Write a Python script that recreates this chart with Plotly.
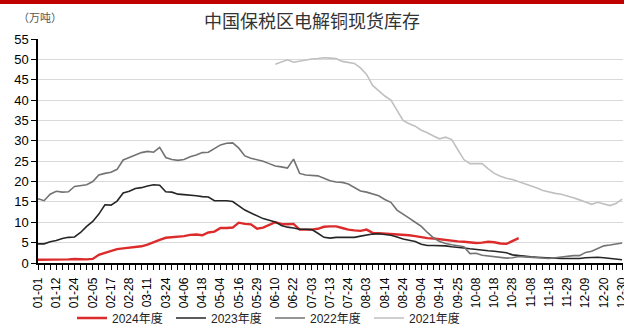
import plotly.graph_objects as go

# Trading dates (MM-DD), two observations per week
dates = [
    "01-01", "01-04", "01-08", "01-12", "01-15", "01-19", "01-24", "01-28", "02-01",
    "02-05", "02-09", "02-13", "02-17", "02-20", "02-24", "02-28", "03-03", "03-07",
    "03-11", "03-15", "03-19", "03-24", "03-28", "04-01", "04-06", "04-10", "04-14",
    "04-18", "04-22", "04-28", "05-04", "05-08", "05-12", "05-16", "05-20", "05-24",
    "05-29", "06-02", "06-06", "06-10", "06-14", "06-18", "06-22", "06-25", "06-29",
    "07-03", "07-06", "07-10", "07-13", "07-17", "07-20", "07-24", "07-27", "07-31",
    "08-03", "08-07", "08-10", "08-14", "08-17", "08-21", "08-24", "08-28", "08-31",
    "09-04", "09-07", "09-11", "09-14", "09-18", "09-21", "09-25", "09-28", "10-04",
    "10-08", "10-11", "10-15", "10-18", "10-22", "10-25", "10-28", "11-01", "11-04",
    "11-08", "11-11", "11-15", "11-18", "11-22", "11-25", "11-29", "12-02", "12-06",
    "12-09", "12-13", "12-16", "12-20", "12-23", "12-27", "12-30",
]

# Bonded-zone cathode copper spot inventory, 10k tonnes
inv_2024 = [
    0.8, 0.8, 0.9, 0.9, 0.9, 0.9, 1.0, 0.9, 0.9, 1.0,
    2.0, 2.5, 3.0, 3.4, 3.6, 3.8, 3.9, 4.1, 4.5, 5.2,
    5.7, 6.2, 6.3, 6.5, 6.6, 6.9, 7.0, 6.8, 7.5, 7.7,
    8.6, 8.6, 8.7, 9.9, 9.6, 9.5, 8.4, 8.7, 9.3, 10.0,
    9.6, 9.5, 9.6, 8.2, 8.2, 8.2, 8.4, 8.9, 9.0, 9.0,
    8.6, 8.2, 8.0, 7.9, 8.2, 7.4, 7.3, 7.2, 7.2, 7.1,
    6.9, 6.8, 6.6, 6.3, 6.1, 6.0, 5.8, 5.6, 5.5, 5.3,
    5.2, 5.0, 4.9, 5.0, 5.2, 5.1, 4.8, 4.7, 5.5, 6.1,
]

inv_2023 = [
    4.7, 4.7, 5.2, 5.5, 6.0, 6.3, 6.4, 7.5, 9.0, 10.2,
    12.0, 14.3, 14.2, 15.2, 17.2, 17.6, 18.3, 18.5, 18.9, 19.2,
    19.1, 17.5, 17.4, 16.9, 16.8, 16.7, 16.5, 16.3, 16.2, 15.3,
    15.3, 15.3, 15.1, 14.0, 13.0, 12.3, 11.5, 10.9, 10.5, 10.1,
    9.2, 8.8, 8.6, 8.3, 8.3, 8.2, 7.3, 6.3, 6.1, 6.3,
    6.3, 6.3, 6.3, 6.6, 6.9, 7.1, 7.2, 7.0, 6.8, 6.4,
    5.9, 5.6, 5.3, 4.6, 4.3, 4.3, 4.3, 4.2, 4.0, 3.9,
    3.7, 3.5, 3.3, 3.1, 3.0, 2.9, 2.7, 2.5, 2.0, 1.8,
    1.6, 1.5, 1.4, 1.3, 1.2, 1.1, 1.1, 1.1, 1.1, 1.1,
    1.3, 1.4, 1.4, 1.3, 1.1, 0.9, 0.8,
]

inv_2022 = [
    15.8, 15.3, 16.9, 17.6, 17.4, 17.5, 18.8, 19.0, 19.2, 20.0,
    21.6, 22.0, 22.3, 23.0, 25.3, 25.9, 26.5, 27.1, 27.4, 27.2,
    28.4, 25.9, 25.4, 25.2, 25.4, 26.1, 26.5, 27.1, 27.2, 28.0,
    29.0, 29.4, 29.5, 28.2, 26.3, 25.7, 25.3, 25.0, 24.4, 23.8,
    23.6, 23.3, 25.5, 22.0, 21.6, 21.5, 21.4, 20.8, 20.2, 19.9,
    19.8, 19.4, 18.5, 17.7, 17.4, 17.0, 16.5, 15.6, 14.9, 13.0,
    12.1, 11.0, 10.0, 9.0, 7.5, 6.2, 5.3, 4.8, 4.5, 4.3,
    4.0, 2.3, 2.4, 1.9, 1.7, 1.5, 1.3, 1.2, 1.3, 1.6,
    1.5, 1.4, 1.3, 1.2, 1.1, 1.3, 1.5, 1.6, 1.8, 1.8,
    2.6, 2.9, 3.6, 4.2, 4.4, 4.6, 4.9,
]

inv_2021 = [None] * 39 + [
    48.8, 49.3, 49.9, 49.3, 49.6, 49.9, 50.1, 50.2, 50.4, 50.3,
    50.2, 49.5, 49.2, 49.0, 47.9, 46.3, 43.6, 42.3, 41.0, 40.0,
    37.6, 35.0, 34.2, 33.6, 32.6, 32.0, 31.2, 30.5, 30.9, 30.3,
    27.8, 25.4, 24.4, 24.4, 24.4, 23.1, 22.0, 21.3, 20.8, 20.5,
    20.0, 19.5, 18.9, 18.4, 17.8, 17.4, 17.1, 16.9, 16.5, 16.0,
    15.5, 14.9, 14.4, 14.9, 14.5, 14.1, 14.6, 15.7,
]

series = [
    ("2024年度", inv_2024, "#DC2B2B", 2.4),
    ("2023年度", inv_2023, "#262626", 1.6),
    ("2022年度", inv_2022, "#737373", 1.6),
    ("2021年度", inv_2021, "#C0C0C0", 1.6),
]

x = list(range(len(dates)))
label_step = 3

fig = go.Figure()
for name, vals, color, width in series:
    fig.add_trace(go.Scatter(
        x=x[:len(vals)], y=vals, name=name, mode="lines",
        line=dict(color=color, width=width), connectgaps=False,
    ))

latin = "Liberation Sans, Arial, sans-serif"
cjk = "Noto Sans CJK SC, sans-serif"

fig.update_layout(
    width=624, height=326,
    margin=dict(l=38, r=1, t=39, b=63, autoexpand=False),
    paper_bgcolor="white", plot_bgcolor="white",
    showlegend=True,
    legend=dict(
        orientation="h", xref="container", yref="container",
        x=72 / 624, xanchor="left", y=1 - 318 / 326, yanchor="middle",
        font=dict(family="Liberation Sans, Noto Sans CJK SC", size=12, color="#222"),
        entrywidth=54, entrywidthmode="pixels", itemwidth=30,
        tracegroupgap=0, bgcolor="rgba(0,0,0,0)",
    ),
    title=dict(
        text="中国保税区电解铜现货库存", x=0.5, xanchor="center", xref="container",
        y=1 - 22 / 326, yanchor="middle",
        font=dict(family=cjk, size=18, color="#333333"),
    ),
)

fig.update_xaxes(
    range=[0, len(dates) - 0.85], automargin=False,
    tickmode="array", tickvals=x[::label_step], ticktext=dates[::label_step],
    tickangle=-90, ticks="outside", ticklen=5, tickwidth=1, tickcolor="black",
    ticklabelstandoff=3, ticklabeloverflow="allow",
    minor=dict(ticks="outside", dtick=1, tick0=0, ticklen=5, tickwidth=1, tickcolor="black"),
    showline=True, linecolor="black", linewidth=1.5,
    showgrid=False, zeroline=False,
    tickfont=dict(family=latin, size=12, color="black"),
)

fig.update_yaxes(
    range=[0, 55], dtick=5, tick0=0, automargin=False,
    ticks="outside", ticklen=5, tickcolor="black",
    showline=True, linecolor="black", linewidth=1.5,
    showgrid=True, gridcolor="#D9D9D9", gridwidth=1.2,
    zeroline=False,
    tickfont=dict(family=latin, size=13, color="black"),
)

# Unit label above the value axis
fig.add_annotation(
    text="（万吨）", xref="paper", yref="paper",
    x=-38 / 585 + 16 / 585, y=1 + 22 / 224, xanchor="left", yanchor="middle",
    showarrow=False, font=dict(family=cjk, size=11, color="#555555"),
)

# Red rule across the top of the page
fig.add_shape(
    type="rect", xref="paper", yref="paper",
    x0=-0.1, x1=1.1, y0=1 + 35 / 224, y1=1 + 40 / 224,
    fillcolor="#C00000", line=dict(width=0), layer="above",
)

fig.write_html("out.html")
